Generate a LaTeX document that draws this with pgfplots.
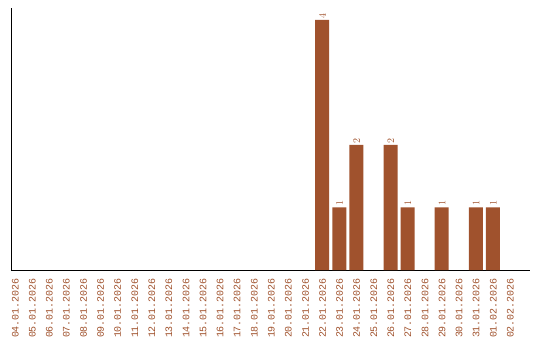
\documentclass[border=0pt]{standalone}
\usepackage{fontspec}
\setmainfont{Liberation Mono}
\setmonofont{Liberation Mono}
\usepackage{pgfplots}
\pgfplotsset{compat=1.18}
\definecolor{barc}{HTML}{A0522D}
\begin{document}
\begin{tikzpicture}
\begin{axis}[
  scale only axis,
  width=519bp, height=262bp,
  xmin=-0.23, xmax=30.17,
  ymin=0, ymax=4.19,
  axis x line*=bottom, axis y line*=left,
  axis line style={black, line width=1pt, -},
  ytick=\empty,
  xtick={0,...,29},
  major tick length=0pt,
  xticklabels={04.01.2026,05.01.2026,06.01.2026,07.01.2026,08.01.2026,09.01.2026,10.01.2026,11.01.2026,12.01.2026,13.01.2026,14.01.2026,15.01.2026,16.01.2026,17.01.2026,18.01.2026,19.01.2026,20.01.2026,21.01.2026,22.01.2026,23.01.2026,24.01.2026,25.01.2026,26.01.2026,27.01.2026,28.01.2026,29.01.2026,30.01.2026,31.01.2026,01.02.2026,02.02.2026},
  xticklabel style={rotate=90, anchor=east, font=\fontsize{10}{11}\selectfont, text=barc, inner sep=0pt, text height=7.2bp, text depth=0pt, xshift=-8bp},
  xtick pos=bottom,
  clip=false,
]
\addplot[ybar, bar width=0.82, fill=barc, draw=none,
  nodes near coords,
  every node near coord/.append style={rotate=90, anchor=west, font=\fontsize{10}{11}\selectfont, text=barc, inner sep=1.5pt, text height=7.2bp, text depth=0pt}]
  coordinates {(18,4) (19,1) (20,2) (22,2) (23,1) (25,1) (27,1) (28,1)};
\end{axis}
\path (-11bp,-70bp) rectangle (529bp,270bp);
\end{tikzpicture}
\end{document}
